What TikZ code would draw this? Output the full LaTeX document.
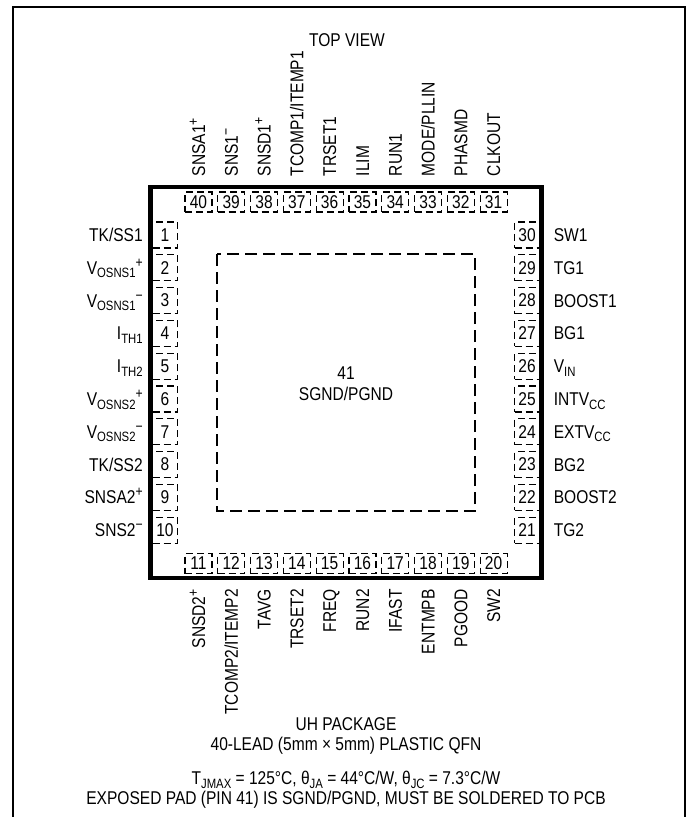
\documentclass[tikz,border=0pt]{standalone}
\usepackage{fontspec}
\setmainfont{Liberation Sans}[FakeStretch=0.84]
\newcommand\lo[1]{\raisebox{-3.5pt}{\fontsize{13.5}{14}\selectfont #1}}
\newcommand\hi[1]{\raisebox{7pt}{\fontsize{14.5}{15}\selectfont #1}}
\tikzset{
  txt/.style={inner sep=0pt,font=\fontsize{18.5}{21}\selectfont},
  lpin/.style={txt,draw,line width=1.2pt,dash pattern=on 7pt off 4pt,minimum width=25pt,minimum height=26pt},
  tpin/.style={txt,draw,line width=1.2pt,dash pattern=on 7pt off 4pt,minimum width=27pt,minimum height=20pt},
}
\begin{document}
\begin{tikzpicture}
% 1pt = 1px, y runs down
[x=1pt,y=-1pt]
\useasboundingbox (0,0) rectangle (690,817);
\draw[line width=2pt] (13,817) -- (13,7) -- (685,7) -- (685,817);
\node[txt] (view) at (347,40) {TOP VIEW};
% left side, pins 1..10
\foreach \txt [count=\i] in {{TK/SS1},{V\lo{OSNS1}\hi{+}},{V\lo{OSNS1}\hi{−}},{I\lo{TH1}},{I\lo{TH2}},
	{V\lo{OSNS2}\hi{+}},{V\lo{OSNS2}\hi{−}},{TK/SS2},{SNSA2\hi{+}},{SNS2\hi{−}}}{
	% 382.5 = package centre, 32.8 = pitch
	\node[lpin] (pin\i) at (165,{382.5+(\i-5.5)*32.8}) {\i};
	\path (pin\i.west) ++(-9,6.6) node[txt,anchor=base east] (lbl\i) {\txt};
	}
% right side, pins 21..30 (bottom to top)
\foreach \txt [count=\i] in {TG2,BOOST2,BG2,{EXTV\lo{CC}},{INTV\lo{CC}},{V\lo{IN}},BG1,BOOST1,TG1,SW1}{
	\pgfmathtruncatemacro\n{20+\i}
	\node[lpin] (pin\n) at (527,{382.5+(5.5-\i)*32.8}) {\n};
	\path (pin\n.east) ++(13.5,6.6) node[txt,anchor=base west] (lbl\n) {\txt};
	}
% top side, pins 40..31 (left to right)
\foreach \txt [count=\i] in {{SNSA1\hi{+}},{SNS1\hi{−}},{SNSD1\hi{+}},{TCOMP1/ITEMP1},TRSET1,ILIM,RUN1,
	{MODE/PLLIN},PHASMD,CLKOUT}{
	\pgfmathtruncatemacro\n{41-\i}
	\node[tpin] (pin\n) at ({346+(\i-5.5)*32.8},202) {\n};
	\path (pin\n.north) ++(6.6,-15) node[txt,rotate=90,anchor=base west] (lbl\n) {\txt};
	}
% bottom side, pins 11..20
\foreach \txt [count=\i] in {{SNSD2\hi{+}},{TCOMP2/ITEMP2},TAVG,TRSET2,FREQ,RUN2,IFAST,ENTMPB,PGOOD,SW2}{
	\pgfmathtruncatemacro\n{10+\i}
	\node[tpin] (pin\n) at ({346+(\i-5.5)*32.8},563.5) {\n};
	\path (pin\n.south) ++(6.6,15) node[txt,rotate=90,anchor=base east] (lbl\n) {\txt};
	}
% package body and exposed pad
\draw[line width=4.5pt] (150.5,187) rectangle (541.5,578);
\draw[line width=1.2pt,dash pattern=on 12pt off 6pt] (217,254) rectangle (475,511);
\node[txt,align=center] (pad) at (346,384) {41\\SGND/PGND};
% package notes
\node[txt] (pkg) at (346,724.5) {UH PACKAGE};
\node[txt] (lead) at (346,746) {40-LEAD (5mm × 5mm) PLASTIC QFN};
\node[txt] (therm) at (346,780) {T\lo{JMAX} = 125°C, θ\lo{JA} = 44°C/W, θ\lo{JC} = 7.3°C/W};
\node[txt] (note) at (346,799.5) {EXPOSED PAD (PIN 41) IS SGND/PGND, MUST BE SOLDERED TO PCB};
\end{tikzpicture}
\end{document}
